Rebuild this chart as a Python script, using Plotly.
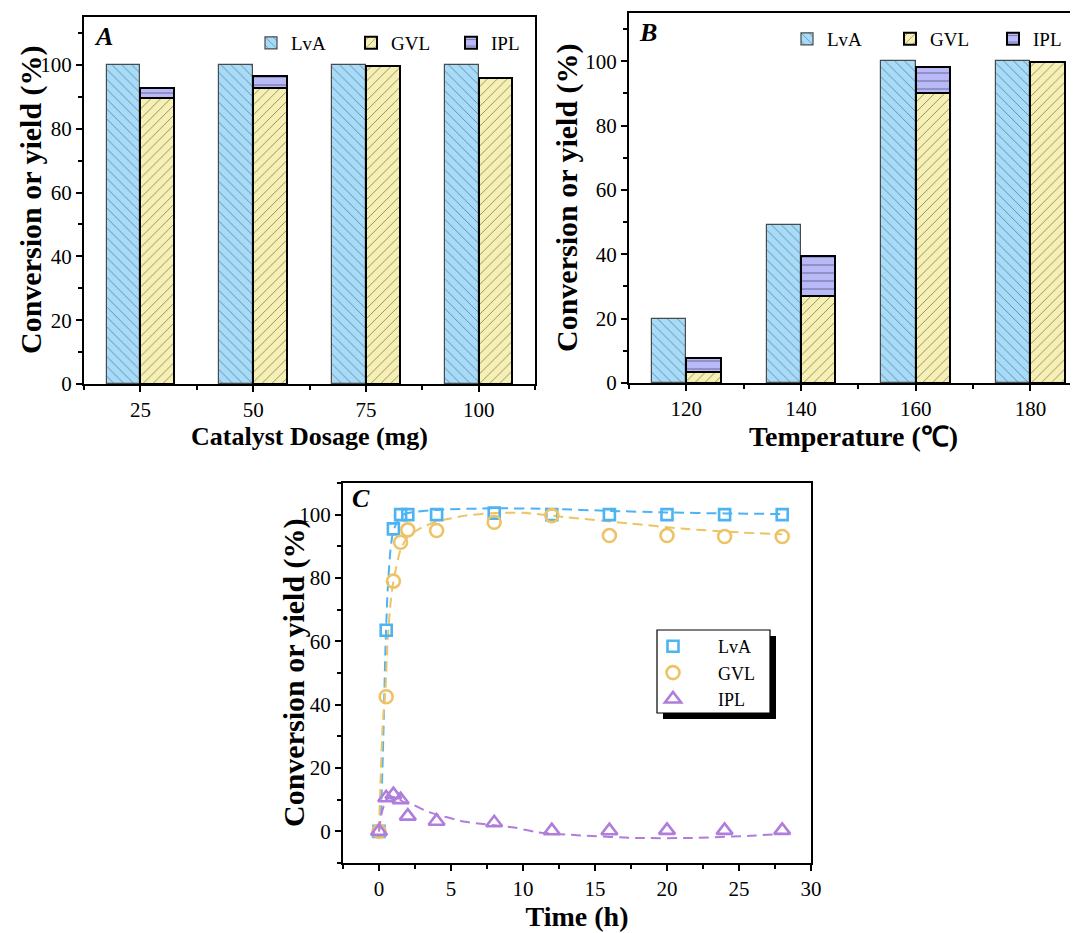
import plotly.graph_objects as go

# ---------------- data ----------------
dosage = [25, 50, 75, 100]
a_lva = [100, 100, 100, 100]
a_gvl = [89.5, 92.7, 99.8, 96.0]
a_ipl = [3.2, 3.9, None, None]

temps = [120, 140, 160, 180]
b_lva = [20.0, 49.0, 100, 100]
b_gvl = [3.3, 27.1, 90.0, 99.8]
b_ipl = [4.4, 12.5, 8.2, None]

time_h = [0, 0.5, 1, 1.5, 2, 4, 8, 12, 16, 20, 24, 28]
c_lva = [0, 63.5, 95.5, 100, 100, 100, 100.5, 100, 100, 100, 100, 100]
c_gvl = [0, 42.5, 79, 91.3, 95.2, 95, 97.6, 99.7, 93.4, 93.4, 93.1, 93.1]
c_ipl = [0, 10.6, 11.6, 10, 4.8, 3.2, 2.7, 0.2, 0.2, 0.3, 0.3, 0.3]

# dashed fitted curves
fit_lva_t = [0, 0.15, 0.3, 0.45, 0.6, 0.8, 1.0, 1.5, 2, 4, 8, 12, 16, 20, 24, 28]
fit_lva_y = [0, 8, 30, 58, 76, 89, 95, 99.5, 100.5, 101.5, 102, 101.8, 101.2, 100.7, 100.4, 100.2]
fit_gvl_t = [0, 0.1, 0.25, 0.45, 0.6, 0.8, 1.0, 1.5, 2, 3, 4, 6, 8, 10, 13, 17.5, 21, 25, 28]
fit_gvl_y = [0, 15, 33, 45, 60, 72, 79, 89, 93, 96, 97.8, 99.7, 100.5, 100.6, 99.2, 97.2, 95.6, 94.4, 93.8]
fit_ipl_t = [0, 0.2, 0.5, 0.8, 1.2, 1.75, 2.3, 3.4, 6, 9.4, 11, 14, 18, 21.7, 25.8, 28]
fit_ipl_y = [0, 6, 10, 11, 10.6, 9.2, 8.5, 6.2, 3.0, 1.2, -0.3, -1.3, -2.1, -2.1, -1.4, -0.8]

Y_TITLE = "Conversion or yield (%)"

# ---------------- style ----------------
FONT = "Liberation Serif"
LVA_FILL = "#a6dcf9"
GVL_FILL = "#f7f0b4"
IPL_FILL = "#b9b9f7"
C_BLUE = "#4db3f2"
C_ORANGE = "#eec366"
C_PURPLE = "#b07ddc"

fig = go.Figure()

def add_bars(xvals, lva, gvl, ipl, width, xa, ya, legend):
    off = width / 2
    xl = [v - off for v in xvals]
    xr = [v + off for v in xvals]
    fig.add_trace(go.Bar(
        x=xl, y=lva, width=width, name="LvA", xaxis=xa, yaxis=ya, legend=legend,
        marker=dict(color=LVA_FILL, line=dict(color="#4a4a4a", width=1.2),
                    pattern=dict(shape="\\", fgcolor="#303030", size=7, solidity=0.13))))
    fig.add_trace(go.Bar(
        x=xr, y=gvl, width=width, name="GVL", xaxis=xa, yaxis=ya, legend=legend,
        marker=dict(color=GVL_FILL, line=dict(color="black", width=2),
                    pattern=dict(shape="/", fgcolor="#202020", size=7, solidity=0.13))))
    base = [g if v is not None else None for g, v in zip(gvl, ipl)]
    fig.add_trace(go.Bar(
        x=xr, y=ipl, base=base, width=width, name="IPL", xaxis=xa, yaxis=ya, legend=legend,
        marker=dict(color=IPL_FILL, line=dict(color="black", width=2),
                    pattern=dict(shape="-", fgcolor="#303050", size=8, solidity=0.15))))

add_bars(dosage, a_lva, a_gvl, a_ipl, 7.5, "x", "y", "legend")
add_bars(temps, b_lva, b_gvl, b_ipl, 6.0, "x2", "y2", "legend2")

dash = "10px,6px"
fig.add_trace(go.Scatter(x=fit_lva_t, y=fit_lva_y, mode="lines", line=dict(color=C_BLUE, width=2, dash=dash, shape="spline", smoothing=0.6),
                         xaxis="x3", yaxis="y3", showlegend=False, hoverinfo="skip"))
fig.add_trace(go.Scatter(x=fit_gvl_t, y=fit_gvl_y, mode="lines", line=dict(color=C_ORANGE, width=2, dash=dash, shape="spline", smoothing=0.6),
                         xaxis="x3", yaxis="y3", showlegend=False, hoverinfo="skip"))
fig.add_trace(go.Scatter(x=fit_ipl_t, y=fit_ipl_y, mode="lines", line=dict(color=C_PURPLE, width=2, dash=dash, shape="spline", smoothing=0.6),
                         xaxis="x3", yaxis="y3", showlegend=False, hoverinfo="skip"))
fig.add_trace(go.Scatter(x=time_h, y=c_lva, mode="markers", name="LvA", legend="legend3", xaxis="x3", yaxis="y3",
                         marker=dict(symbol="square-open", size=11, color=C_BLUE, line=dict(width=2.6, color=C_BLUE))))
fig.add_trace(go.Scatter(x=time_h, y=c_gvl, mode="markers", name="GVL", legend="legend3", xaxis="x3", yaxis="y3",
                         marker=dict(symbol="circle-open", size=13, color=C_ORANGE, line=dict(width=2.6, color=C_ORANGE))))
fig.add_trace(go.Scatter(x=time_h, y=c_ipl, mode="markers", name="IPL", legend="legend3", xaxis="x3", yaxis="y3",
                         marker=dict(symbol="triangle-up-open", size=14, color=C_PURPLE, line=dict(width=2.6, color=C_PURPLE))))

# page has an 8px body margin: work in screen pixels and convert
OFF = 8
W, H = 1070, 925
def px(x): return (x - OFF) / W
def py(y): return 1 - (y - OFF) / H

tickfont = dict(family=FONT, size=21, color="black")
ytitlefont = dict(family=FONT, size=30, color="black", weight="bold")

def xax(domain, rng, dtick, title, anchor, mirror=True, standoff=0, tsize=27):
    return dict(domain=domain, range=rng, anchor=anchor, tickmode="linear", tick0=0, dtick=dtick,
                showline=True, linecolor="black", linewidth=2, mirror=mirror, ticks="outside",
                ticklen=6, tickwidth=2, tickcolor="black", showgrid=False, zeroline=False,
                automargin=False, tickfont=tickfont,
                title=dict(text=title, font=dict(family=FONT, size=tsize, color="black", weight="bold"),
                           standoff=standoff),
                minor=dict(ticks="outside", ticklen=4, tickwidth=2, tickcolor="black", dtick=dtick / 2))

def yax(domain, rng, anchor, mirror=True):
    return dict(domain=domain, range=rng, anchor=anchor, tickmode="linear", tick0=0, dtick=20,
                showline=True, linecolor="black", linewidth=2, mirror=mirror, ticks="outside",
                ticklen=6, tickwidth=2, tickcolor="black", showgrid=False, zeroline=False,
                automargin=False, tickfont=tickfont,
                minor=dict(ticks="outside", ticklen=4, tickwidth=2, tickcolor="black", dtick=10))

legfont = dict(family=FONT, size=19, color="black")

def ytitle(x, y):
    return dict(text=Y_TITLE, x=px(x), y=py(y), xref="paper", yref="paper", showarrow=False,
                textangle=-90, xanchor="center", yanchor="middle", font=ytitlefont)

def plabel(t, x, y):
    return dict(text="<b><i>%s</i></b>" % t, x=px(x), y=py(y), xref="paper", yref="paper", showarrow=False,
                xanchor="left", yanchor="middle", font=dict(family=FONT, size=26, color="black"))

fig.update_layout(
    width=W, height=H, margin=dict(l=0, r=0, t=0, b=0, autoexpand=False),
    paper_bgcolor="white", plot_bgcolor="white", barmode="overlay", bargap=0,
    font=dict(family=FONT, color="black"),
    xaxis=xax([px(84), px(535)], [12.5, 112.5], 25, "Catalyst Dosage (mg)", "y", tsize=26),
    yaxis=yax([py(384), py(17)], [0, 115], "x"),
    xaxis2=xax([px(629), 1.0], [110, 188.3], 20, "Temperature (℃)", "y2", tsize=28),
    yaxis2=yax([py(383), py(13)], [0, 115], "x2", mirror=False),
    xaxis3=xax([px(343), px(811)], [-2.5, 30], 5, "Time (h)", "y3", standoff=2, tsize=28),
    yaxis3=yax([py(863), py(483)], [-10, 110], "x3"),
    legend=dict(orientation="h", x=px(251), y=py(24), xanchor="left", yanchor="top",
                font=legfont, bgcolor="rgba(0,0,0,0)", itemwidth=30, traceorder="normal",
                entrywidth=55, entrywidthmode="pixels"),
    legend2=dict(orientation="h", x=px(787), y=py(20), xanchor="left", yanchor="top",
                 font=legfont, bgcolor="rgba(0,0,0,0)", itemwidth=30, traceorder="normal",
                 entrywidth=58, entrywidthmode="pixels"),
    legend3=dict(x=px(628), y=py(628), xanchor="left", yanchor="top",
                 font=dict(family=FONT, size=18, color="black"),
                 bgcolor="rgba(0,0,0,0)", borderwidth=0, itemwidth=80,
                 traceorder="normal", tracegroupgap=0),
    annotations=[
        ytitle(31, 200), ytitle(567, 198), ytitle(294, 673),
        plabel("A", 92, 36), plabel("B", 637, 33), plabel("C", 350, 498),
    ],
    shapes=[
        # legend box with drop shadow for panel C
        dict(type="rect", xref="paper", yref="paper", x0=px(663), x1=px(776), y0=py(719), y1=py(636),
             fillcolor="black", line=dict(width=0), layer="below"),
        dict(type="rect", xref="paper", yref="paper", x0=px(657), x1=px(770), y0=py(713), y1=py(630),
             fillcolor="white", line=dict(width=1.2, color="black"), layer="below"),
    ],
)

fig.write_html("out.html")
